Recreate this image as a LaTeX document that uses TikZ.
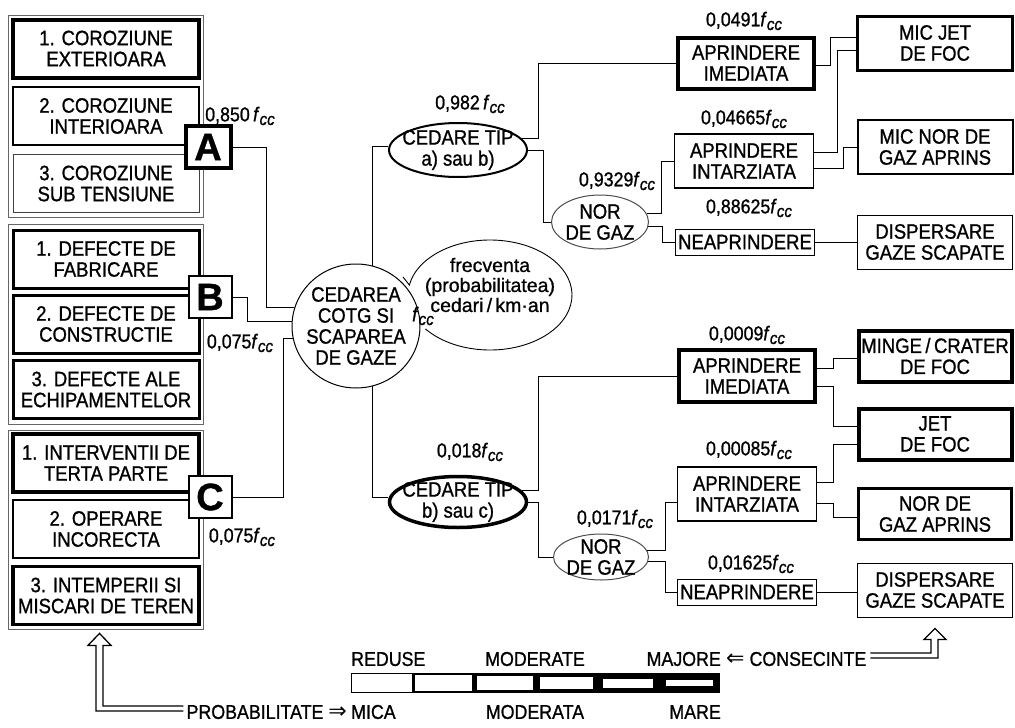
\documentclass[tikz,border=0pt]{standalone}
\usepackage{fontspec}
\setmainfont{Liberation Sans}[FakeStretch=0.89, FakeBold=1]
\newfontfamily\symfont{DejaVu Sans}
\newfontfamily\letterfont{Liberation Sans}[FakeBold=1]
\newfontfamily\plainfont{Liberation Sans}[FakeBold=0.8]
\usetikzlibrary{shapes.geometric}
\newcommand{\txt}{\fontsize{20.8}{21}\selectfont}
\newcommand{\fcc}{\textit{f}\raisebox{-0.35ex}{\fontsize{17}{17}\selectfont\textit{cc}}}

\begin{document}
\begin{tikzpicture}[x=1pt, y=-1pt]
	\tikzstyle{every node}=[font=\txt, align=center, inner sep=0pt]
	\tikzstyle{grp}=[draw=black!60, line width=0.8pt, minimum width=195]
	\tikzstyle{cause}=[draw, line width=1pt, minimum width=186, minimum height=58]
	\tikzstyle{letter}=[draw, fill=white, line width=2pt, minimum width=43, minimum height=42, font=\fontsize{38}{38}\letterfont\bfseries]
	\tikzstyle{oval}=[draw, ellipse, line width=1pt, inner xsep=-30pt, inner ysep=-18pt]
	\tikzstyle{box}=[draw, line width=1pt, minimum width=139, minimum height=54]
	\tikzstyle{effect}=[draw, line width=1pt, minimum width=155, minimum height=54]
	\tikzstyle{lbl}=[font=\fontsize{20}{20}\selectfont]
	\tikzstyle{wire}=[line width=0.9pt]
	\tikzstyle{fat}=[line width=1.3pt, line join=miter]

	\useasboundingbox (0,0) rectangle (1015,728);

	% group A - corrosion
	\node[grp, minimum height=202](Grp_A) at (105.5, 116) {};
	\node[cause, line width=4pt](Cor_Ext) at (106, 48.5) {1. COROZIUNE\\EXTERIOARA};
	\node[cause, line width=1.8pt](Cor_Int) at (106, 116) {2. COROZIUNE\\INTERIOARA};
	\node[cause, draw=black!75](Cor_Sub) at (106, 183.5) {3. COROZIUNE\\SUB TENSIUNE};

	% group B - defects
	\node[grp, minimum height=200](Grp_B) at (105.5, 324) {};
	\node[cause, line width=3pt](Def_Fab) at (106, 259) {1. DEFECTE DE\\FABRICARE};
	\node[cause, line width=3pt](Def_Con) at (106, 324) {2. DEFECTE DE\\CONSTRUCTIE};
	\node[cause, line width=3pt](Def_Ech) at (106, 389.5) {3. DEFECTE ALE\\ECHIPAMENTELOR};

	% group C - third party, operation, weather
	\node[grp, minimum height=199](Grp_C) at (105.5, 529.5) {};
	\node[cause, line width=4pt](Int_Ter) at (106, 463) {1. INTERVENTII DE\\TERTA PARTE};
	\node[cause, line width=1.8pt](Op_Inc) at (106, 529) {2. OPERARE\\INCORECTA};
	\node[cause, line width=3.5pt](Intemp) at (106, 595.5) {3. INTEMPERII SI\\MISCARI DE TEREN};

	% letters
	\node[letter, line width=4pt, minimum width=45](Lit_A) at (208, 147) {A};
	\node[letter](Lit_B) at (210, 297) {B};
	\node[letter](Lit_C) at (210, 497) {C};
	\node[lbl](P_A) at (240, 116) {0,850\,\fcc};
	\node[lbl](P_B) at (240, 343) {0,075\fcc};
	\node[lbl](P_C) at (242, 537) {0,075\fcc};

	% frequency note
	\coordinate (Frecv_C) at (490, 295);
	\draw[wire]([shift={(-87,-18)}]Frecv_C) -- ([shift={(190.5:82 and 55)}]Frecv_C) arc[start angle=190.5, end angle=502, x radius=82, y radius=55];
	\node[font=\plainfont\fontsize{19.5}{20}\selectfont](Frecv) at (490, 285) {frecventa\\(probabilitatea)\\cedari\,/\,km·an};

	% main event
	\node[oval, fill=white, minimum width=128, minimum height=124](Cedarea) at (356, 326) {CEDAREA\\COTG SI\\SCAPAREA\\DE GAZE};
	\node[lbl](Fcc_Frecv) at (423, 316) {\fcc};

	% causes - main event
	\draw[wire](Lit_A.east) -- ++(34, 0) |- (Cedarea.163);
	\draw[wire](Lit_B.east) -- ++(15, 0) |- (Cedarea.176);
	\draw[wire](Lit_C.east) -- ++(51, 0) |- (Cedarea.191);

	% upper branch
	\node[oval, line width=2pt, minimum width=138, minimum height=54](Cedare_AB) at (458, 150) {CEDARE TIP\\a) sau b)};
	\node[lbl](P_AB) at (470, 104) {0,982\,\fcc};
	\node[box, line width=4pt, minimum width=136, minimum height=51](Impr_Sus) at (746, 63) {APRINDERE\\IMEDIATA};
	\node[lbl](P_Impr_Sus) at (744, 21) {0,0491\fcc};
	\node[box, line width=1.5pt](Intarz_Sus) at (744, 161) {APRINDERE\\INTARZIATA};
	\node[lbl](P_Intarz_Sus) at (744, 119) {0,04665\fcc};
	\node[oval, draw=black!70, minimum width=97, minimum height=54](Nor_Sus) at (600, 222) {NOR\\DE GAZ};
	\node[lbl](P_Nor_Sus) at (617, 181) {0,9329\fcc};
	\node[box, minimum height=26](Neapr_Sus) at (745, 242) {NEAPRINDERE};
	\node[lbl](P_Neapr_Sus) at (749, 208) {0,88625\fcc};
	\node[effect, line width=3pt](Jet_Mic) at (935, 43) {MIC JET\\DE FOC};
	\node[effect, line width=2pt](NorAprins_Mic) at (935, 147) {MIC NOR DE\\GAZ APRINS};
	\node[effect](Dispers_Sus) at (935, 242) {DISPERSARE\\GAZE SCAPATE};

	% upper branch lines
	\draw[wire](Cedarea.75) |- ([yshift=4]Cedare_AB.west);
	\draw[wire](Cedare_AB.10) -- ++(16, 0) |- (Impr_Sus.west);
	\draw[wire](Cedare_AB.east) -- ++(15, 0) |- (Nor_Sus.west);
	\draw[wire](Nor_Sus.10) -- ++(15, 0) |- (Intarz_Sus.west);
	\draw[wire](Nor_Sus.355) -- ++(14, 0) |- (Neapr_Sus.west);
	\draw[wire]([yshift=-2]Impr_Sus.east) -- ++(14, 0) |- ([yshift=6]Jet_Mic.west);
	\draw[wire]([yshift=9]Intarz_Sus.east) -- ++(23, 0) |- ([yshift=-7]Jet_Mic.west);
	\draw[wire]([yshift=-7]Intarz_Sus.east) -- ++(29, 0) |- (NorAprins_Mic.west);
	\draw[wire](Neapr_Sus.east) -- (Dispers_Sus.west);

	% lower branch
	\node[oval, line width=3.5pt, minimum width=137, minimum height=51](Cedare_BC) at (458, 502) {CEDARE TIP\\b) sau c)};
	\node[lbl](P_BC) at (470, 452) {0,018\fcc};
	\node[box, line width=4pt, minimum width=136, minimum height=52](Impr_Jos) at (747, 376) {APRINDERE\\IMEDIATA};
	\node[lbl](P_Impr_Jos) at (747, 335) {0,0009\fcc};
	\node[box, line width=1.5pt](Intarz_Jos) at (747, 494) {APRINDERE\\INTARZIATA};
	\node[lbl](P_Intarz_Jos) at (749, 450) {0,00085\fcc};
	\node[oval, draw=black!70, minimum width=95, minimum height=46](Nor_Jos) at (601, 557) {NOR\\DE GAZ};
	\node[lbl](P_Nor_Jos) at (615, 519) {0,0171\fcc};
	\node[box, minimum height=26](Neapr_Jos) at (747, 592) {NEAPRINDERE};
	\node[lbl](P_Neapr_Jos) at (751, 564) {0,01625\fcc};
	\node[effect, line width=4pt, minimum width=153, minimum height=51](Minge) at (935, 356) {MINGE\,/\,CRATER\\DE FOC};
	\node[effect, line width=4pt, minimum width=153, minimum height=51](Jet_Foc) at (935, 434) {JET\\DE FOC};
	\node[effect, line width=3.5pt, minimum width=153, minimum height=51](NorAprins_Jos) at (935, 514) {NOR DE\\GAZ APRINS};
	\node[effect](Dispers_Jos) at (935, 590) {DISPERSARE\\GAZE SCAPATE};

	% lower branch lines
	\draw[wire](Cedarea.285) |- ([yshift=5]Cedare_BC.west);
	\draw[wire](Cedare_BC.10) -- ++(16, 0) |- (Impr_Jos.west);
	\draw[wire](Cedare_BC.east) -- ++(10, 0) |- (Nor_Jos.west);
	\draw[wire](Nor_Jos.8) -- ++(18, 0) |- ([yshift=-8]Intarz_Jos.west);
	\draw[wire](Nor_Jos.355) -- ++(17, 0) |- (Neapr_Jos.west);
	\draw[wire]([yshift=8]Impr_Jos.east) -- ++(16, 0) |- ([yshift=-2]Minge.west);
	\draw[wire]([yshift=-10]Impr_Jos.east) -- ++(16, 0) |- ([yshift=8]Jet_Foc.west);
	\draw[wire]([yshift=12]Intarz_Jos.east) -- ++(16, 0) |- ([yshift=-10]Jet_Foc.west);
	\draw[wire]([yshift=-9]Intarz_Jos.east) -- ++(16, 0) |- ([yshift=-3]NorAprins_Jos.west);
	\draw[wire](Neapr_Jos.east) -- (Neapr_Jos.east -| Dispers_Jos.west);

	% scale bar
	\foreach \i/\w in {1/1, 2/2, 3/3, 4/4, 5/5.5, 6/7}
		\node[draw, line width=\w pt, outer sep=0pt, minimum width={61.5-\w}, minimum height={20-\w}](Cell\i) at ({351+61.5*(\i-0.5)}, 683) {};
	\node[lbl, anchor=west](Reduse) at (351, 659) {REDUSE};
	\node[lbl](Moderate) at (535, 659) {MODERATE};
	\node[lbl, anchor=east](Majore) at (721, 659) {MAJORE};
	\node[lbl, anchor=west](Consec) at (726, 659) {{\symfont\fontsize{22}{22}\selectfont ⇐} CONSECINTE};
	\node[lbl, anchor=east](Prob) at (347, 712) {PROBABILITATE {\symfont\fontsize{22}{22}\selectfont ⇒}};
	\node[lbl, anchor=west](Mica) at (351, 712) {MICA};
	\node[lbl](Moderata) at (535, 712) {MODERATA};
	\node[lbl, anchor=east](Mare) at (721, 712) {MARE};

	% hollow arrows
	\coordinate (Tip_L) at ([xshift=-6, yshift=-4]Grp_C.south);
	\coordinate (Tip_R) at ([yshift=-11]Dispers_Jos.south);
	\draw[fat]([xshift=-3, yshift=1]Prob.west) -| ([xshift=-3.5, yshift=-12]Tip_L) -- ++(-8, 0) -- (Tip_L) -- ++(11.5, 12) -- ++(-8, 0) |- ([xshift=-3, yshift=6]Prob.west);
	\draw[fat]([xshift=4, yshift=6]Consec.east) -| ([xshift=-4, yshift=-11]Tip_R) -- ++(-7, 0) -- (Tip_R) -- ++(11, 11) -- ++(-8, 0) |- ([xshift=4, yshift=1]Consec.east);
\end{tikzpicture}
\end{document}
